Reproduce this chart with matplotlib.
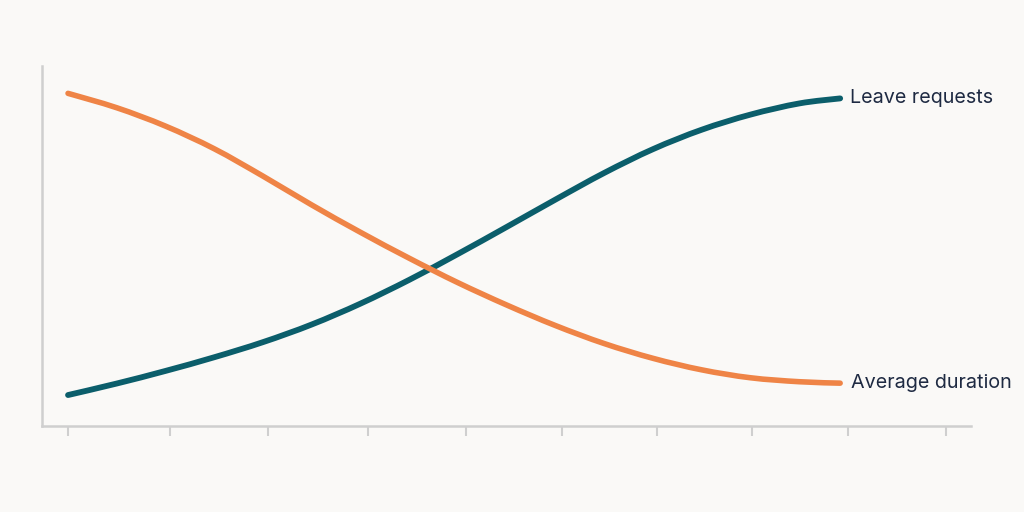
import matplotlib
matplotlib.use("Agg")
import matplotlib.pyplot as plt
from matplotlib.path import Path
from matplotlib.patches import PathPatch

# x positions (tick units) where the curves were read
x_pos = [0, 0.5, 1, 1.5, 2, 2.5, 3, 3.5, 4, 4.5, 5, 5.5, 6, 6.5, 7, 7.5, 7.92]
leave_requests = [8.6, 11.8, 15.3, 19.1, 23.3, 28.2, 34.0, 40.6, 47.8, 55.3,
                  62.9, 70.3, 76.9, 82.3, 86.5, 89.6, 91.0]
average_duration = [92.4, 88.4, 83.3, 77.0, 69.4, 61.4, 53.8, 46.6, 39.8, 33.6,
                    27.9, 22.9, 18.8, 15.6, 13.4, 12.3, 11.9]
tick_positions = [0, 1.046, 2.051, 3.077, 4.082, 5.067, 6.041, 7.015, 8.0, 9.005]
series_labels = ["Leave requests", "Average duration"]

BG = "#faf9f7"
TEAL = "#0b5e6b"
ORANGE = "#ef8446"
TEXT = "#1e2a42"
SPINE = "#cfcfcf"


def smooth_path(xs, ys):
    """Catmull-Rom curve through the data points, as cubic Bezier segments."""
    pts = list(zip(xs, ys))
    verts = [pts[0]]
    codes = [Path.MOVETO]
    n = len(pts)
    for i in range(n - 1):
        p0 = pts[i - 1] if i > 0 else pts[i]
        p1 = pts[i]
        p2 = pts[i + 1]
        p3 = pts[i + 2] if i + 2 < n else pts[i + 1]
        c1 = (p1[0] + (p2[0] - p0[0]) / 6, p1[1] + (p2[1] - p0[1]) / 6)
        c2 = (p2[0] - (p3[0] - p1[0]) / 6, p2[1] - (p3[1] - p1[1]) / 6)
        verts += [c1, c2, p2]
        codes += [Path.CURVE4] * 3
    return Path(verts, codes)


fig = plt.figure(figsize=(10.24, 5.12), dpi=100, facecolor=BG)
ax = fig.add_axes([42/1024, 86/512, 929/1024, 360/512], facecolor=BG)

for ys, col, lw in [(leave_requests, TEAL, 4.2), (average_duration, ORANGE, 4.0)]:
    patch = PathPatch(smooth_path(x_pos, ys), facecolor="none", edgecolor=col,
                      lw=lw, capstyle="round", joinstyle="round")
    ax.add_patch(patch)

ax.annotate(series_labels[0], xy=(x_pos[-1], leave_requests[-1]),
            xytext=(7, 0), textcoords="offset points", va="center", ha="left",
            fontsize=14.2, color=TEXT, family=["Inter", "DejaVu Sans"])
ax.annotate(series_labels[1], xy=(x_pos[-1], average_duration[-1]),
            xytext=(8, 0), textcoords="offset points", va="center", ha="left",
            fontsize=14.2, color=TEXT, family=["Inter", "DejaVu Sans"])

ax.set_xlim(-0.267, 9.262)
ax.set_ylim(0, 100)
ax.set_xticks(tick_positions)
ax.set_xticklabels([])
ax.set_yticks([])
ax.tick_params(axis="x", length=7, width=1.5, color=SPINE, direction="out")
for s in ["top", "right"]:
    ax.spines[s].set_visible(False)
for s in ["left", "bottom"]:
    ax.spines[s].set_color(SPINE)
    ax.spines[s].set_linewidth(1.8)

fig.savefig("out.png", dpi=100, facecolor=BG)
